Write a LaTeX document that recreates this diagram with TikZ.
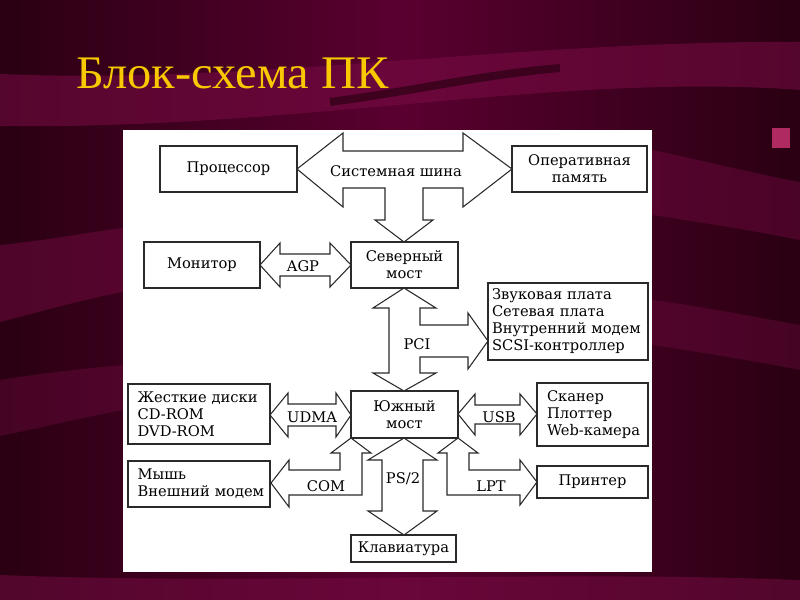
\documentclass[tikz,border=0pt]{standalone}
\usepackage{fontspec}
\setmainfont{DejaVu Serif}
\newfontfamily\titlefont{Liberation Serif}
\definecolor{bgdark}{HTML}{2A0012}
\definecolor{bgmid}{HTML}{5A0030}
\definecolor{bandc}{HTML}{7A0C45}
\definecolor{shadowc}{HTML}{22000D}
\definecolor{titlec}{HTML}{F8C800}
\definecolor{inkc}{HTML}{2A2A2A}
\definecolor{pinkc}{HTML}{B02A62}
\tikzset{
  box/.style={draw=inkc, line width=0.8pt, fill=white, inner sep=0pt,
    font=\fontsize{11}{12.75}\selectfont, align=center},
  lbox/.style={box, align=left},
  barrow/.style={draw=inkc, line width=0.8pt, fill=white, line join=miter},
  lbl/.style={font=\fontsize{11}{12.75}\selectfont, inner sep=0pt}
}
\def\u{0.75pt}
\begin{document}
\begin{tikzpicture}[x=0.75pt,y=-0.75pt]
\useasboundingbox (0,0) rectangle (800,600);
% background
\shade[left color=bgdark, right color=bgdark, middle color=bgmid] (0,0) rectangle (800,600);
\fill[bandc, opacity=0.55] (0,74) .. controls (250,85) and (520,40) .. (800,42)
  -- (800,90) .. controls (560,72) and (300,130) .. (0,126) -- cycle;
\draw[shadowc, line width=6pt, opacity=0.6] (330,102) .. controls (420,90) and (480,75) .. (560,68);
\fill[bandc, opacity=0.45] (0,245) .. controls (50,240) and (90,232) .. (123,228)
  -- (123,292) .. controls (80,300) and (40,312) .. (0,322) -- cycle;
\fill[bandc, opacity=0.35] (0,380) .. controls (50,372) and (90,368) .. (123,365)
  -- (123,410) .. controls (80,418) and (40,428) .. (0,436) -- cycle;
\fill[bandc, opacity=0.4] (652,150) .. controls (700,160) and (760,175) .. (800,182)
  -- (800,240) .. controls (760,232) and (700,222) .. (652,215) -- cycle;
\fill[bandc, opacity=0.35] (652,300) .. controls (700,306) and (760,318) .. (800,325)
  -- (800,370) .. controls (760,362) and (700,352) .. (652,345) -- cycle;
\fill[bandc, opacity=0.5] (0,575) .. controls (250,585) and (550,570) .. (800,580)
  -- (800,600) -- (0,600) -- cycle;
\fill[pinkc] (772,128) rectangle (790,148);
% title
\node[anchor=base west, inner sep=0pt, text=titlec, font=\titlefont\fontsize{34}{40}\selectfont]
  (title) at (76,88) {\scalebox{1.07}[1.03]{Блок-схема ПК}};
% panel
\fill[white] (123,130) rectangle (652,572);
% block arrows
\draw[barrow] (297,169) -- (343,133) -- (343,151) -- (463,151) -- (463,133) -- (512,169)
  -- (463,207) -- (463,188) -- (423,188) -- (423,220) -- (433,220) -- (404,242)
  -- (375,220) -- (385,220) -- (385,188) -- (343,188) -- (343,207) -- cycle;
\draw[barrow] (260,265) -- (280,243) -- (280,254) -- (330,254) -- (330,243) -- (351,265)
  -- (330,287) -- (330,276) -- (280,276) -- (280,287) -- cycle;
\draw[barrow] (404,288) -- (436,308) -- (420,308) -- (420,325) -- (468,325) -- (468,313)
  -- (488,341) -- (468,369) -- (468,357) -- (420,357) -- (420,373) -- (436,373)
  -- (404,391) -- (373,373) -- (389,373) -- (389,308) -- (373,308) -- cycle;
\draw[barrow] (270,415) -- (288,393) -- (288,404) -- (336,404) -- (336,393) -- (351,415)
  -- (336,437) -- (336,426) -- (288,426) -- (288,437) -- cycle;
\draw[barrow] (458,414) -- (475,394) -- (475,405) -- (520,405) -- (520,394) -- (537,414)
  -- (520,435) -- (520,424) -- (475,424) -- (475,435) -- cycle;
\draw[barrow] (351,438) -- (371,453) -- (362,453) -- (362,495) -- (289,495) -- (289,507)
  -- (271,483) -- (289,460) -- (289,470) -- (340,470) -- (340,453) -- (331,453) -- cycle;
\draw[barrow] (458,438) -- (478,453) -- (469,453) -- (469,470) -- (520,470) -- (520,460)
  -- (537,482) -- (520,505) -- (520,495) -- (447,495) -- (447,453) -- (438,453) -- cycle;
\draw[barrow] (404,438) -- (437,460) -- (423,460) -- (423,511) -- (437,511) -- (404,535)
  -- (368,511) -- (382,511) -- (382,460) -- (368,460) -- cycle;
% arrow labels
\node[lbl] (lsys) at (396,171) {Системная шина};
\node[lbl] (lagp) at (303,266) {AGP};
\node[lbl] (lpci) at (417,344) {PCI};
\node[lbl] (ludma) at (312,417) {UDMA};
\node[lbl] (lusb) at (499,417) {USB};
\node[lbl] (lcom) at (326,486) {COM};
\node[lbl] (lps) at (403,479) {PS/2};
\node[lbl] (llpt) at (491,486) {LPT};
% boxes
\node[box, minimum width=137*\u, minimum height=46*\u] (cpu) at (228.5,169) {Процессор};
\node[box, minimum width=135*\u, minimum height=46*\u] (ram) at (579.5,169) {Оперативная\\память};
\node[box, minimum width=107*\u, minimum height=46*\u] (north) at (404.5,265) {Северный\\мост};
\node[box, minimum width=116*\u, minimum height=46*\u] (mon) at (202,265) {Монитор};
\node[lbox, minimum width=160*\u, minimum height=77*\u, text width=152*\u, inner xsep=4*\u] (per) at (568,321.5)
  {\mbox{Звуковая плата}\\\mbox{Сетевая плата}\\\mbox{Внутренний модем}\\\mbox{SCSI-контроллер}};
\node[box, minimum width=107*\u, minimum height=47*\u] (south) at (404.5,414.5) {Южный\\мост};
\node[lbox, minimum width=142*\u, minimum height=60*\u, text width=132*\u, inner xsep=5*\u] (hdd) at (199,414)
  {\mbox{\hspace{3.5pt}Жесткие диски}\\\mbox{\hspace{3.5pt}CD-ROM}\\\mbox{\hspace{3.5pt}DVD-ROM}};
\node[lbox, minimum width=111*\u, minimum height=63*\u, text width=103*\u, inner xsep=4*\u] (scan) at (592.5,414.5)
  {\mbox{\hspace{4.5pt}Сканер}\\\mbox{\hspace{4.5pt}Плоттер}\\\mbox{\hspace{4.5pt}Web-камера}};
\node[lbox, minimum width=142*\u, minimum height=46*\u, text width=132*\u, inner xsep=5*\u] (mouse) at (199,484)
  {\mbox{\hspace{3.5pt}Мышь}\\\mbox{\hspace{3.5pt}Внешний модем}};
\node[box, minimum width=111*\u, minimum height=32*\u] (prn) at (592.5,482) {Принтер};
\node[box, minimum width=105*\u, minimum height=27*\u] (kbd) at (403.5,548.5) {Клавиатура};
\end{tikzpicture}
\end{document}
